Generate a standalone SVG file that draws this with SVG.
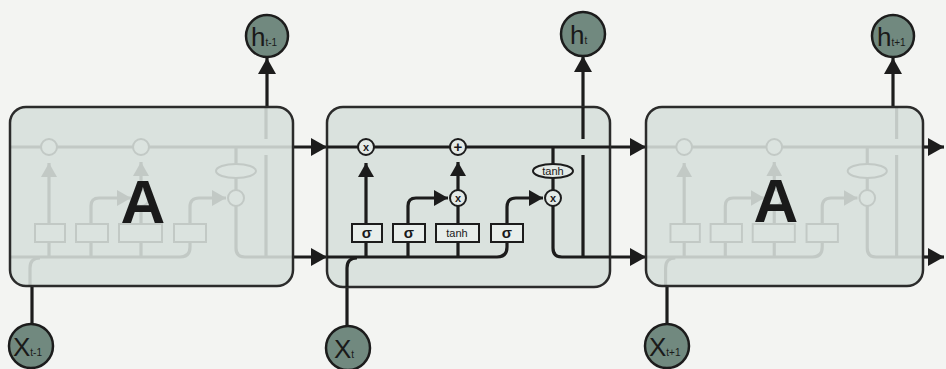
<svg xmlns="http://www.w3.org/2000/svg" xmlns:xlink="http://www.w3.org/1999/xlink" width="946" height="369" viewBox="0 0 946 369">
<style>
.box{fill:#dae2de;stroke:#2b2b2b;stroke-width:2.5}
.ln{fill:none;stroke:#1c1c1c;stroke-width:3.2;stroke-linecap:butt}
.op{fill:#e4eae7;stroke:#1c1c1c;stroke-width:2}
.gate{fill:#e8eeeb;stroke:#1c1c1c;stroke-width:2}
.io{fill:#71897f;stroke:#1c1c1c;stroke-width:2.5}
.t{font-family:"Liberation Sans",Arial,sans-serif;fill:#1a1a1a}
.big{font-size:62px;font-weight:bold;text-anchor:middle}
.g{font-size:15px;font-weight:bold;text-anchor:middle}
.gs{font-size:11px;text-anchor:middle}
.lbl{font-size:26px}
.sub{font-size:10px}
</style>
<defs>
<marker id="ah" viewBox="0 0 16 18" refX="16" refY="9" markerWidth="16" markerHeight="18" markerUnits="userSpaceOnUse" orient="auto">
<path d="M0,0 L16,9 L0,18 z" fill="#1c1c1c"/>
</marker>
<marker id="ahs" viewBox="0 0 14 16" refX="14" refY="8" markerWidth="14" markerHeight="16" markerUnits="userSpaceOnUse" orient="auto">
<path d="M0,0 L14,8 L0,16 z" fill="#1c1c1c"/>
</marker>
<g id="core">
<path class="ln" d="M327,147 H610"/>
<path class="ln" d="M327,257 H497 Q507,257 507,247 V242"/>
<path class="ln" d="M347,287 V268 Q347,258 357,258"/>
<path class="ln" d="M366,257 V242"/>
<path class="ln" d="M366,224 V163" marker-end="url(#ahs)"/>
<path class="ln" d="M408,257 V242"/>
<path class="ln" d="M408,224 V206 Q408,198 416,198 H448" marker-end="url(#ahs)"/>
<path class="ln" d="M458,257 V242 M458,224 V206"/>
<path class="ln" d="M458,190 V162" marker-end="url(#ahs)"/>
<path class="ln" d="M507,224 V207 Q507,198 516,198 H543" marker-end="url(#ahs)"/>
<path class="ln" d="M553,147 V164 M553,178 V190"/>
<path class="ln" d="M553,206 V248 Q553,257 562,257 H610"/>
<path class="ln" d="M583,257 V155 M583,139 V107"/>
<circle class="op" cx="366" cy="147" r="8"/>
<circle class="op" cx="458" cy="147" r="8"/>
<circle class="op" cx="458" cy="198" r="8"/>
<circle class="op" cx="553" cy="198" r="8"/>
<ellipse class="op" cx="553" cy="171" rx="20" ry="7"/>
<rect class="gate" x="352" y="224" width="30" height="18"/>
<rect class="gate" x="393" y="224" width="32" height="18"/>
<rect class="gate" x="436" y="224" width="43" height="18"/>
<rect class="gate" x="491" y="224" width="32" height="18"/>
</g>
</defs>
<rect width="946" height="369" fill="#f3f4f2"/>

<g id="connectors">
<path class="ln" d="M293,147 H327" marker-end="url(#ah)"/>
<path class="ln" d="M293,257 H327" marker-end="url(#ah)"/>
<path class="ln" d="M610,147 H646" marker-end="url(#ah)"/>
<path class="ln" d="M610,257 H646" marker-end="url(#ah)"/>
<path class="ln" d="M923,147 H944" marker-end="url(#ah)"/>
<path class="ln" d="M923,257 H944" marker-end="url(#ah)"/>
<path class="ln" d="M267,108 V58" marker-end="url(#ah)"/>
<path class="ln" d="M583,108 V56" marker-end="url(#ah)"/>
<path class="ln" d="M893,108 V58" marker-end="url(#ah)"/>
<path class="ln" d="M32,324 V286"/>
<path class="ln" d="M347,326 V287"/>
<path class="ln" d="M667,324 V286"/>
</g>

<g id="cell-left">
<rect class="box" x="10" y="107" width="283" height="179" rx="16"/>
<g opacity="0.12" transform="translate(-317,0)"><use xlink:href="#core" href="#core"/></g>
<text class="t big" x="143" y="223">A</text>
</g>

<g id="cell-mid">
<rect class="box" x="327" y="107" width="283" height="180" rx="16"/>
<use xlink:href="#core" href="#core"/>
<text class="t gs" x="366" y="151" font-weight="bold">x</text>
<text class="t g" x="458" y="152">+</text>
<text class="t gs" x="458" y="202" font-weight="bold">x</text>
<text class="t gs" x="553" y="202" font-weight="bold">x</text>
<text class="t gs" x="553" y="175">tanh</text>
<text class="t g" x="367" y="238">σ</text>
<text class="t g" x="409" y="238">σ</text>
<text class="t gs" x="457" y="237">tanh</text>
<text class="t g" x="507" y="238">σ</text>
</g>

<g id="cell-right">
<rect class="box" x="646" y="107" width="277" height="179" rx="16"/>
<g opacity="0.12" transform="translate(646,0) scale(0.979,1) translate(-327,0)"><use xlink:href="#core" href="#core"/></g>
<text class="t big" x="776" y="222">A</text>
</g>

<g id="h-prev"><circle class="io" cx="267" cy="36" r="21"/><text class="t lbl" x="251" y="46">h<tspan class="sub">t-1</tspan></text></g>
<g id="h-cur"><circle class="io" cx="583" cy="34" r="22"/><text class="t lbl" x="570" y="44">h<tspan class="sub">t</tspan></text></g>
<g id="h-next"><circle class="io" cx="893" cy="36" r="21"/><text class="t lbl" x="877" y="46">h<tspan class="sub">t+1</tspan></text></g>
<g id="x-prev"><circle class="io" cx="31" cy="346" r="22"/><text class="t lbl" x="13" y="356">X<tspan class="sub">t-1</tspan></text></g>
<g id="x-cur"><circle class="io" cx="348" cy="348" r="22"/><text class="t lbl" x="334" y="358">X<tspan class="sub">t</tspan></text></g>
<g id="x-next"><circle class="io" cx="667" cy="346" r="22"/><text class="t lbl" x="649" y="356">X<tspan class="sub">t+1</tspan></text></g>
</svg>
